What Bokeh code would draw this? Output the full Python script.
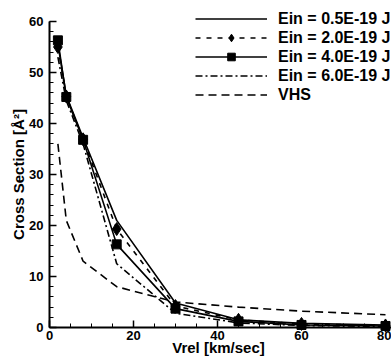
import math
from bokeh.plotting import figure
from bokeh.models import Range1d, SingleIntervalTicker, Legend, LegendItem, Label
from bokeh.embed import file_html
from bokeh.resources import INLINE

vrel = [2, 4, 8, 16, 30, 45, 60, 80]
ein05 = [55.5, 45.5, 37.2, 21.0, 4.8, 1.5, 0.8, 0.5]
ein20 = [55.0, 45.3, 36.9, 19.3, 4.2, 1.5, 0.7, 0.4]
ein40 = [56.3, 45.2, 36.8, 16.3, 3.7, 1.2, 0.5, 0.3]
ein60 = [53.0, 44.5, 36.0, 12.5, 2.8, 0.9, 0.4, 0.2]
vhs = [36.0, 21.0, 13.0, 8.0, 5.0, 4.0, 3.2, 2.5]

labels = ["Ein = 0.5E-19 J", "Ein = 2.0E-19 J", "Ein = 4.0E-19 J", "Ein = 6.0E-19 J", "VHS"]
x_title = "Vrel [km/sec]"
y_title = "Cross Section [Å²]"

FONT = "Liberation Sans"

W, H = 391, 356
X0, Y0 = 49, 327            # pixel of the data origin
XS, YS = 4.2, 5.1           # pixels per data unit
x_lo, x_hi = -X0 / XS, (W - X0) / XS
y_lo, y_hi = -(H - Y0) / YS, Y0 / YS

p = figure(width=W, height=H, output_backend="svg", toolbar_location=None,
           x_range=Range1d(x_lo, x_hi), y_range=Range1d(y_lo, y_hi),
           min_border_left=0, min_border_right=0, min_border_top=0, min_border_bottom=0)
p.outline_line_color = None
p.grid.visible = False
p.background_fill_color = "white"
p.border_fill_color = "white"

p.xaxis.ticker = SingleIntervalTicker(interval=20, num_minor_ticks=4)
p.yaxis.ticker = SingleIntervalTicker(interval=10, num_minor_ticks=5)
p.xaxis.fixed_location = 0
p.yaxis.fixed_location = 0
p.xaxis.bounds = (0, x_hi)
p.yaxis.bounds = (0, 60)
for ax in (p.xaxis[0], p.yaxis[0]):
    ax.axis_line_width = 2
    ax.axis_line_color = "black"
    ax.major_tick_in = 7
    ax.major_tick_out = 0
    ax.minor_tick_in = 4
    ax.minor_tick_out = 0
    ax.major_tick_line_width = 1.5
    ax.minor_tick_line_width = 1
    ax.major_label_text_font = FONT
    ax.major_label_text_font_style = "bold"
    ax.major_label_text_font_size = "13px"
    ax.major_label_text_color = "black"
p.xaxis.major_label_standoff = 3
p.yaxis.major_label_standoff = 6

lw = 1.6
r1 = p.line(vrel, ein05, line_color="black", line_width=lw)
r2 = p.line(vrel, ein20, line_color="black", line_width=lw, line_dash="5 6")
r2m = p.scatter(vrel, ein20, marker="diamond", size=13, color="black")
r3 = p.line(vrel, ein40, line_color="black", line_width=lw)
r3m = p.scatter(vrel, ein40, marker="square", size=9, color="black")
r4 = p.line(vrel, ein60, line_color="black", line_width=lw, line_dash="7 3 2 3")
r5 = p.line(vrel, vhs, line_color="black", line_width=lw, line_dash="8 5")

def txt(**kw):
    return Label(text_font=FONT, text_font_style="bold", text_color="black",
                 text_align="center", text_baseline="middle",
                 x_units="screen", y_units="screen", **kw)

p.add_layout(txt(x=218, y=9, text=x_title, text_font_size="15px"))
p.add_layout(txt(x=18, y=182, text=y_title, angle=math.pi / 2, text_font_size="15px"))

legend = Legend(items=[
    LegendItem(label=labels[0], renderers=[r1]),
    LegendItem(label=labels[1], renderers=[r2, r2m]),
    LegendItem(label=labels[2], renderers=[r3, r3m]),
    LegendItem(label=labels[3], renderers=[r4]),
    LegendItem(label=labels[4], renderers=[r5]),
], location=(195, 252))
legend.glyph_width = 72
legend.glyph_height = 19
legend.label_height = 19
legend.label_standoff = 11
legend.spacing = 0
legend.padding = 0
legend.margin = 0
legend.border_line_color = None
legend.background_fill_alpha = 0
legend.label_text_font = FONT
legend.label_text_font_style = "bold"
legend.label_text_font_size = "16px"
legend.label_text_color = "black"
p.add_layout(legend, "center")

open("out.html", "w").write(file_html(p, INLINE))
